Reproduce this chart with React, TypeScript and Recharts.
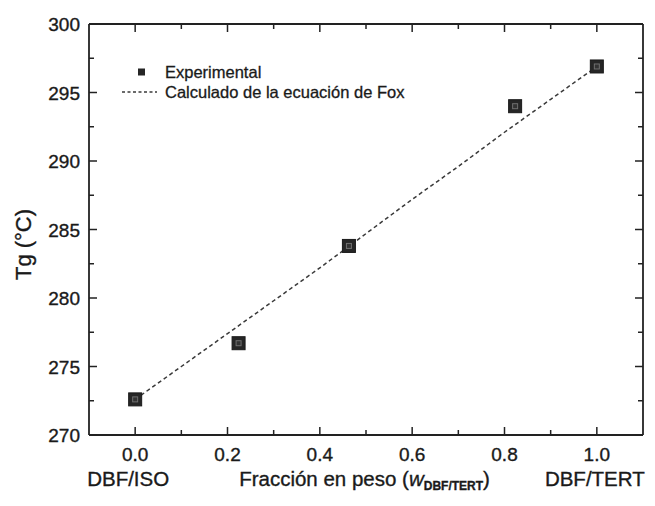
import React from "react";
import {
  ComposedChart,
  Line,
  Scatter,
  XAxis,
  YAxis,
  Legend,
} from "recharts";

// Weight fraction of DBF/TERT in the blend
const expWeightFraction = [0.0, 0.224, 0.463, 0.823, 1.0];
// Measured glass transition temperature (°C)
const expTg = [272.6, 276.7, 283.8, 294.0, 296.9];

// Fox equation prediction
const foxWeightFraction = [0.0, 0.1, 0.2, 0.3, 0.4, 0.5, 0.6, 0.7, 0.8, 0.9, 1.0];
const foxTg = [272.6, 275.0, 277.4, 279.8, 282.2, 284.7, 287.2, 289.6, 292.1, 294.5, 296.9];

const xTicks = [0, 0.1, 0.2, 0.3, 0.4, 0.5, 0.6, 0.7, 0.8, 0.9, 1.0];
const yTicks = [270, 272.5, 275, 277.5, 280, 282.5, 285, 287.5, 290, 292.5, 295, 297.5, 300];

const xTitle = "Fracción en peso (";
const xTitleVar = "w";
const xTitleSub = "DBF/TERT";
const yTitle = "Tg (°C)";
const leftEndLabel = "DBF/ISO";
const rightEndLabel = "DBF/TERT";
const legendExp = "Experimental";
const legendFox = "Calculado de la ecuación de Fox";

const expData = expWeightFraction.map((w, i) => ({ w, tg: expTg[i] }));
const foxData = foxWeightFraction.map((w, i) => ({ w, tg: foxTg[i] }));

const FONT = '"Liberation Sans", Arial, Helvetica, sans-serif';
const INK = "#1a1a1a";
const AXIS = "#222";
const MAJOR = 8;
const MINOR = 5;
const LEFT_GAP = 9;

// slightly heavier glyphs, like a printed figure
const textStyle = { stroke: INK, strokeWidth: 0.35 } as const;

const isMajorX = (v: number) => Math.round(v * 10) % 2 === 0;
const isMajorY = (v: number) => Math.abs(v % 5) < 1e-6;

const BottomTick = (p: any) => {
  const { x, y, payload } = p;
  const v = payload.value as number;
  const major = isMajorX(v);
  return (
    <g>
      <line x1={x} x2={x} y1={y} y2={y - (major ? MAJOR : MINOR)} stroke={AXIS} strokeWidth={1.5} />
      {major && (
        <text x={x} y={y + 26} textAnchor="middle" fontSize={19} fill={INK} fontFamily={FONT} {...textStyle}>
          {v.toFixed(1)}
        </text>
      )}
      {Math.abs(v) < 1e-9 && (
        <text x={x - 7} y={y + 51} textAnchor="middle" fontSize={20.5} fill={INK} fontFamily={FONT} {...textStyle}>
          {leftEndLabel}
        </text>
      )}
      {Math.abs(v - 1) < 1e-9 && (
        <text x={x - 2} y={y + 51} textAnchor="middle" fontSize={20.5} fill={INK} fontFamily={FONT} {...textStyle}>
          {rightEndLabel}
        </text>
      )}
    </g>
  );
};

const TopTick = (p: any) => {
  const { x, y, payload } = p;
  const major = isMajorX(payload.value);
  return <line x1={x} x2={x} y1={y} y2={y + (major ? MAJOR : MINOR)} stroke={AXIS} strokeWidth={1.5} />;
};

const LeftTick = (p: any) => {
  const { x, y, payload } = p;
  const v = payload.value as number;
  const major = isMajorY(v);
  const ax = x + LEFT_GAP;
  return (
    <g>
      <line x1={ax} x2={ax + (major ? MAJOR : MINOR)} y1={y} y2={y} stroke={AXIS} strokeWidth={1.5} />
      {major && (
        <text x={x} y={y + 7} textAnchor="end" fontSize={19} fill={INK} fontFamily={FONT} {...textStyle}>
          {v}
        </text>
      )}
    </g>
  );
};

const RightTick = (p: any) => {
  const { x, y, payload } = p;
  const major = isMajorY(payload.value);
  return <line x1={x} x2={x - (major ? MAJOR : MINOR)} y1={y} y2={y} stroke={AXIS} strokeWidth={1.5} />;
};

const XTitle = (p: any) => {
  const vb = p.viewBox || {};
  const cx = vb.x + vb.width / 2 - 1.5;
  const top = vb.y;
  return (
    <text x={cx} y={top + 51} textAnchor="middle" fontSize={20.5} fill={INK} fontFamily={FONT} {...textStyle}>
      {xTitle}
      <tspan fontStyle="italic">{xTitleVar}</tspan>
      <tspan fontSize={12} fontWeight="bold" dy={4}>{xTitleSub}</tspan>
      <tspan dy={-4}>)</tspan>
    </text>
  );
};

const YTitle = (p: any) => {
  const vb = p.viewBox || {};
  const x = 31;
  const cy = vb.y + vb.height / 2 + 15;
  return (
    <text
      x={x}
      y={cy}
      transform={`rotate(-90, ${x}, ${cy})`}
      textAnchor="middle"
      fontSize={22}
      fill={INK}
      fontFamily={FONT}
      {...textStyle}
    >
      {yTitle}
    </text>
  );
};

const SquareMarker = (p: any) => {
  const { cx, cy } = p;
  if (cx == null || cy == null) return null;
  return (
    <g>
      <rect x={cx - 6.5} y={cy - 6.5} width={13} height={13} fill="#262626" stroke="#1a1a1a" strokeWidth={1} />
      <rect x={cx - 2.5} y={cy - 2.5} width={5} height={5} fill="#333" stroke="#707070" strokeWidth={1} />
    </g>
  );
};

const LegendBox = () => (
  <div
    style={{
      fontFamily: FONT,
      fontSize: 16.5,
      color: INK,
      lineHeight: "20px",
      WebkitTextStroke: "0.3px #1a1a1a",
    }}
  >
    <div style={{ display: "flex", alignItems: "center", height: 20 }}>
      <svg width={43} height={20} style={{ display: "block" }}>
        <rect x={16} y={6.5} width={7} height={7} fill="#262626" />
      </svg>
      <span style={{ whiteSpace: "nowrap" }}>{legendExp}</span>
    </div>
    <div style={{ display: "flex", alignItems: "center", height: 20 }}>
      <svg width={43} height={20} style={{ display: "block" }}>
        <line x1={0} x2={35} y1={10} y2={10} stroke="#3a3a3a" strokeWidth={1.5} strokeDasharray="3 2.5" />
      </svg>
      <span style={{ whiteSpace: "nowrap" }}>{legendFox}</span>
    </div>
  </div>
);

export default function App() {
  return (
    <div style={{ position: "absolute", left: 0, top: 0, width: 655, height: 506, background: "#fff" }}>
      <ComposedChart width={655} height={506} margin={{ top: 23, right: 11, bottom: 0, left: 0 }}>
        <XAxis
          xAxisId="bottom"
          dataKey="w"
          type="number"
          orientation="bottom"
          domain={[-0.1, 1.1]}
          ticks={xTicks}
          interval={0}
          allowDataOverflow
          height={71}
          tickSize={0}
          tickMargin={0}
          tickLine={false}
          axisLine={{ stroke: AXIS, strokeWidth: 1.8 }}
          tick={BottomTick}
          label={XTitle}
        />
        <XAxis
          xAxisId="top"
          dataKey="w"
          type="number"
          orientation="top"
          domain={[-0.1, 1.1]}
          ticks={xTicks}
          interval={0}
          allowDataOverflow
          height={1}
          tickSize={0}
          tickMargin={0}
          tickLine={false}
          axisLine={{ stroke: AXIS, strokeWidth: 1.8 }}
          tick={TopTick}
        />
        <YAxis
          yAxisId="left"
          dataKey="tg"
          type="number"
          orientation="left"
          domain={[270, 300]}
          ticks={yTicks}
          interval={0}
          allowDataOverflow
          width={89}
          tickSize={0}
          tickMargin={LEFT_GAP}
          tickLine={false}
          axisLine={{ stroke: AXIS, strokeWidth: 1.8 }}
          tick={LeftTick}
          label={YTitle}
        />
        <YAxis
          yAxisId="right"
          dataKey="tg"
          type="number"
          orientation="right"
          domain={[270, 300]}
          ticks={yTicks}
          interval={0}
          allowDataOverflow
          width={1}
          tickSize={0}
          tickMargin={0}
          tickLine={false}
          axisLine={{ stroke: AXIS, strokeWidth: 1.8 }}
          tick={RightTick}
        />
        <Legend
          layout="vertical"
          align="center"
          verticalAlign="middle"
          content={LegendBox}
          wrapperStyle={{ position: "absolute", left: 122, top: 62, width: 320 }}
        />
        <Line
          xAxisId="bottom"
          yAxisId="left"
          data={foxData}
          dataKey="tg"
          stroke="#3a3a3a"
          strokeWidth={1.5}
          strokeDasharray="4 3"
          dot={false}
          activeDot={false}
          legendType="none"
          isAnimationActive={false}
        />
        <Scatter
          xAxisId="bottom"
          yAxisId="left"
          data={expData}
          dataKey="tg"
          shape={SquareMarker}
          legendType="none"
          isAnimationActive={false}
        />
        <Scatter
          xAxisId="top"
          yAxisId="right"
          data={expData}
          dataKey="tg"
          shape={() => null}
          legendType="none"
          isAnimationActive={false}
        />
      </ComposedChart>
    </div>
  );
}
